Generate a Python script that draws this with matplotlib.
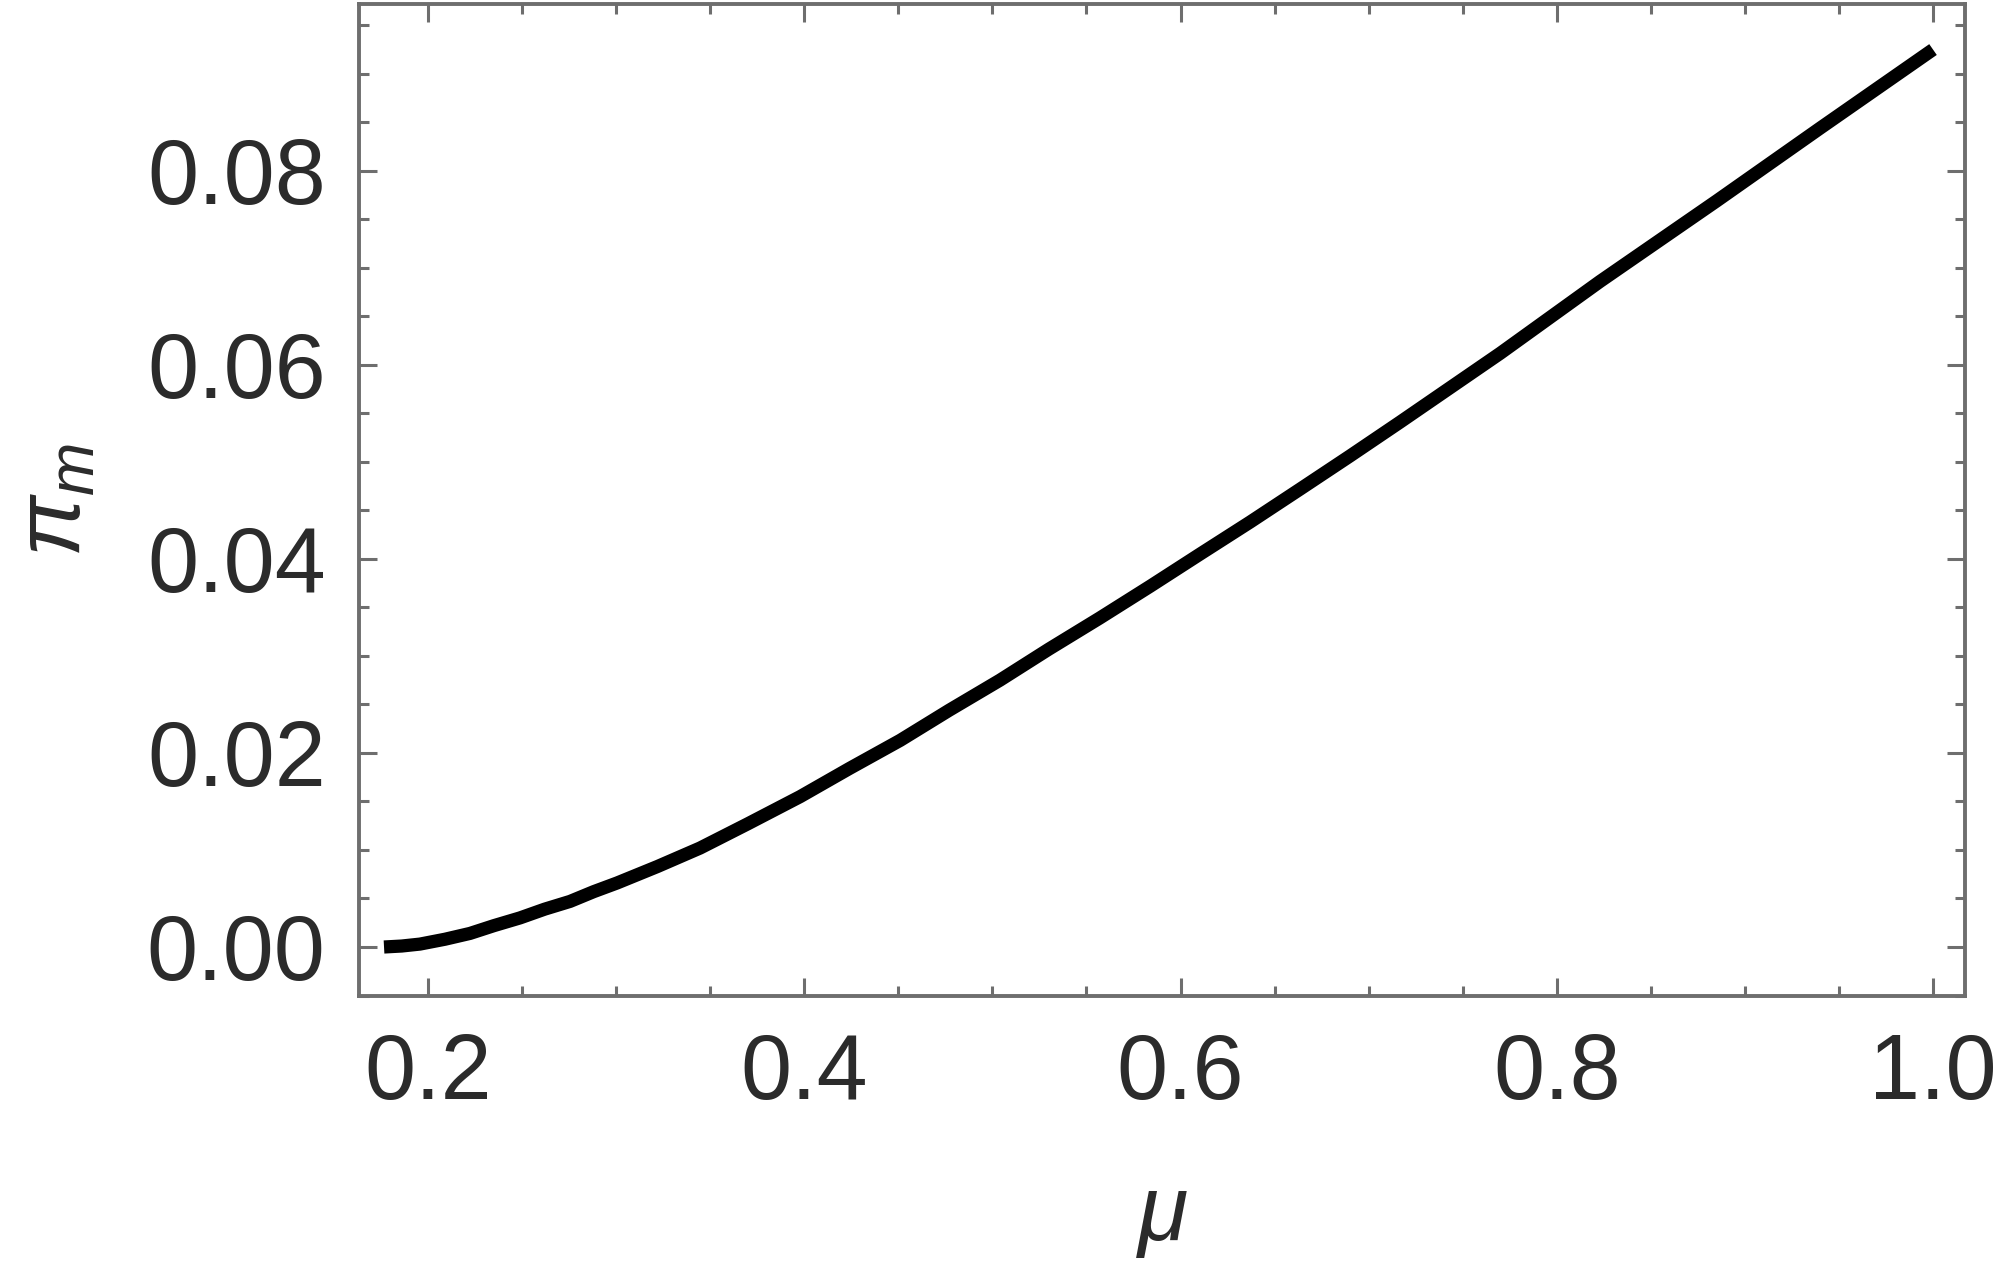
import numpy as np
from matplotlib import pyplot as plt
from matplotlib.ticker import MultipleLocator

plt.rcParams['font.family'] = ['Liberation Sans', 'DejaVu Sans']
plt.rcParams['mathtext.fontset'] = 'custom'
plt.rcParams['mathtext.rm'] = 'Liberation Sans'
plt.rcParams['mathtext.it'] = 'Liberation Sans:italic'

# значения
mu = [0.1766, 0.186, 0.1957, 0.209, 0.2223, 0.235, 0.2489, 0.262, 0.2755, 0.288,
      0.3005, 0.322, 0.3446, 0.37, 0.3978, 0.424, 0.451, 0.477, 0.504, 0.53,
      0.557, 0.584, 0.6104, 0.637, 0.6636, 0.69, 0.7167, 0.77, 0.823, 0.885,
      0.94, 1.0]
pi_m = [0.0, 0.0001, 0.0003, 0.0008, 0.0014, 0.0022, 0.0030, 0.0039, 0.0047, 0.0057,
        0.0066, 0.0083, 0.0102, 0.0127, 0.0155, 0.0184, 0.0213, 0.0244, 0.0275, 0.0307,
        0.0339, 0.0372, 0.0405, 0.0438, 0.0472, 0.0506, 0.0541, 0.0612, 0.0686, 0.0769,
        0.0844, 0.0925]

xticks = [0.2, 0.4, 0.6, 0.8, 1.0]
yticks = [0.00, 0.02, 0.04, 0.06, 0.08]

axis_col = '#6e6e6e'
text_col = '#2b2b2b'

fig = plt.figure(figsize=(20, 12.73), dpi=100)
ax = fig.add_axes([0.1795, 0.2176, 0.803, 0.7793])

ax.plot(mu, pi_m, color='black', lw=9.5, solid_capstyle='butt', solid_joinstyle='round')

ax.set_xlim(0.1633, 1.017)
ax.set_ylim(-0.00505, 0.0972)

ax.set_xticks(xticks)
ax.set_xticklabels([f'{t:.1f}' for t in xticks])
ax.set_yticks(yticks)
ax.set_yticklabels([f'{t:.2f}' for t in yticks])
ax.xaxis.set_minor_locator(MultipleLocator(0.05))
ax.yaxis.set_minor_locator(MultipleLocator(0.005))

# тики внутрь со всех сторон, как в Mathematica
ax.tick_params(which='both', direction='in', top=True, right=True,
               color=axis_col, width=2.2, labelsize=66, labelcolor=text_col)
ax.tick_params(which='major', length=13)
ax.tick_params(which='minor', length=7)
ax.tick_params(axis='x', which='major', pad=26)
ax.tick_params(axis='y', which='major', pad=24)

for s in ax.spines.values():
    s.set_color(axis_col)
    s.set_linewidth(2.8)

ax.set_xlabel(r'$\mu$', fontsize=66, color=text_col, labelpad=40)
ax.set_ylabel(r'$\pi_m$', fontsize=66, color=text_col, labelpad=34)

fig.savefig('out.png', dpi=100)
